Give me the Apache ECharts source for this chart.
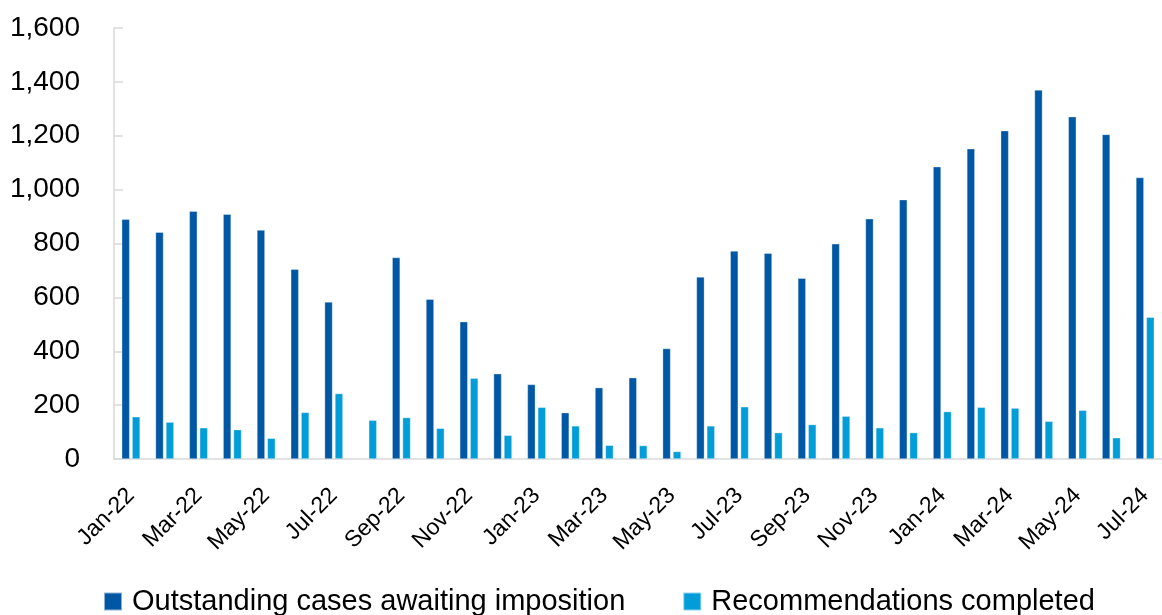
<!DOCTYPE html>
<html>
<head>
<meta charset="utf-8">
<style>
  html, body { margin: 0; padding: 0; background: #fff; }
  #chart { width: 1162px; height: 615px; }
</style>
<script src="https://cdn.jsdelivr.net/npm/echarts@6/dist/echarts.min.js"></script>
</head>
<body>
<div id="chart"></div>
<script>
// Monthly series, Jan-22 to Jul-24
const months = [
  'Jan-22','Feb-22','Mar-22','Apr-22','May-22','Jun-22','Jul-22','Aug-22','Sep-22','Oct-22','Nov-22','Dec-22',
  'Jan-23','Feb-23','Mar-23','Apr-23','May-23','Jun-23','Jul-23','Aug-23','Sep-23','Oct-23','Nov-23','Dec-23',
  'Jan-24','Feb-24','Mar-24','Apr-24','May-24','Jun-24','Jul-24'
];
const outstandingCases = [
  890, 842, 920, 909, 850, 705, 583, null, 748, 593, 510, 317,
  277, 172, 265, 302, 410, 676, 772, 764, 671, 799, 892, 963,
  1085, 1152, 1219, 1370, 1271, 1205, 1045
];
const recommendationsCompleted = [
  157, 137, 116, 109, 77, 173, 243, 144, 154, 114, 300, 88,
  192, 123, 51, 50, 28, 123, 194, 98, 128, 159, 116, 98,
  176, 192, 189, 140, 181, 79, 526
];
const yTicks = { min: 0, max: 1600, step: 200 };

const FONT = '"Liberation Sans", Arial, sans-serif';
const AXIS_GREY = '#d9d9d9';

const chart = echarts.init(document.getElementById('chart'), null, { renderer: 'canvas' });

chart.setOption({
  animation: false,
  backgroundColor: '#ffffff',
  textStyle: { fontFamily: FONT },
  grid: { left: 114, right: 0, top: 28, bottom: 156, containLabel: false },
  legend: {
    left: 98,
    top: 582,
    itemWidth: 18,
    itemHeight: 18,
    itemGap: 57,
    icon: 'rect',
    textStyle: { fontSize: 29, color: '#000', fontFamily: FONT, padding: [0, 0, 0, 5] },
    data: ['Outstanding cases awaiting imposition', 'Recommendations completed']
  },
  xAxis: {
    type: 'category',
    data: months,
    boundaryGap: true,
    axisLine: { lineStyle: { color: AXIS_GREY, width: 1.5 } },
    axisTick: { interval: 1, length: 8, lineStyle: { color: AXIS_GREY, width: 1.5 } },
    axisLabel: {
      interval: 1,
      rotate: 45,
      margin: 33,
      fontSize: 23,
      color: '#000',
      fontFamily: FONT
    },
    splitLine: { show: false }
  },
  yAxis: {
    type: 'value',
    min: yTicks.min,
    max: yTicks.max,
    interval: yTicks.step,
    axisLine: { show: true, lineStyle: { color: AXIS_GREY, width: 1.5 } },
    axisTick: { show: true, inside: true, length: 9, lineStyle: { color: AXIS_GREY, width: 1.5 } },
    axisLabel: {
      margin: 34,
      fontSize: 28,
      color: '#000',
      fontFamily: FONT,
      formatter: v => v.toLocaleString('en-US')
    },
    splitLine: { show: false }
  },
  series: [
    {
      name: 'Outstanding cases awaiting imposition',
      type: 'bar',
      data: outstandingCases,
      barWidth: 8,
      barGap: '30%',
      itemStyle: { color: '#0057a4', borderColor: 'rgba(255,255,255,0.55)', borderWidth: 0.6 }
    },
    {
      name: 'Recommendations completed',
      type: 'bar',
      data: recommendationsCompleted,
      barWidth: 8,
      barGap: '30%',
      itemStyle: { color: '#009dd9', borderColor: 'rgba(255,255,255,0.55)', borderWidth: 0.6 }
    }
  ]
});
</script>
</body>
</html>
